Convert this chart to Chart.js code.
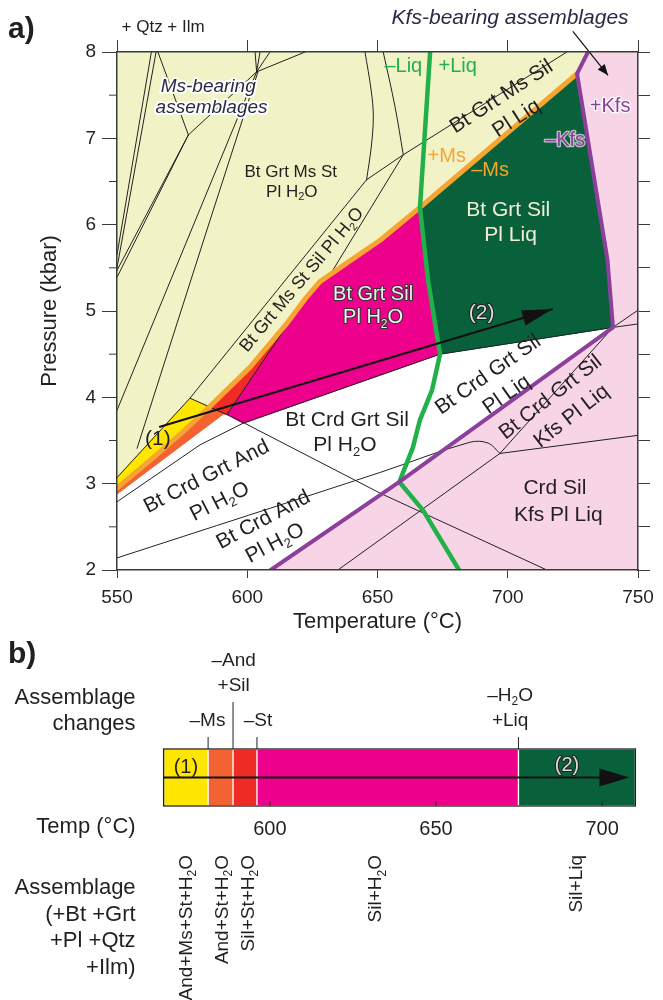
<!DOCTYPE html>
<html>
<head>
<meta charset="utf-8">
<title>Pseudosection and path</title>
<script src="https://cdn.jsdelivr.net/npm/chart.js@4.4.1/dist/chart.umd.min.js"></script>
<style>
  html, body { margin: 0; padding: 0; background: #fff; }
  #wrap { position: relative; width: 663px; height: 1000px; }
  canvas { position: absolute; left: 0; }
  #pseudo { top: 0; }
  #path { top: 640px; }
</style>
</head>
<body>
<div id="wrap">
  <canvas id="pseudo" width="663" height="640"></canvas>
  <canvas id="path" width="663" height="360"></canvas>
</div>
<script>
const FONT = "'Liberation Sans', Arial, sans-serif";
const INK = '#231f20';
const AXIS = '#3a3a3a';
const GREEN = '#22b04b';
const ORANGE = '#f6a533';
const PURPLE = '#8c3f9b';

// ---- panel a ----
const tempRange = [550, 750];
const pressRange = [2, 8];
const minorP = [2.5, 3.5, 4.5, 5.5, 6.5, 7.5];

// boundaries, [T degC, P kbar]
const msOut = [[550, 2.95], [562.7, 3.27], [575.3, 3.6], [585.5, 3.89], [601.1, 4.35], [615.3, 4.86], [622.2, 5.14], [627.9, 5.34], [639.4, 5.58], [651, 5.82], [666.3, 6.2], [726.6, 7.75]];
const solidus = [[670.2, 8], [666.3, 6.2], [669.4, 5.36], [674, 4.5], [670.9, 4.08], [666.3, 3.74], [663.6, 3.42], [658.4, 3.02], [667.5, 2.69], [681.3, 2]];
const kfsIn = [[609, 2], [658.4, 3.02], [740.4, 4.81], [738.3, 5.59], [726.6, 7.75], [730.8, 8]];

// coloured fields
const fieldMs = [[550, 8], [730.8, 8], [726.6, 7.75], [666.3, 6.2], [651, 5.82], [639.4, 5.58], [627.9, 5.34], [622.2, 5.14], [615.3, 4.86], [601.1, 4.35], [585.5, 3.89], [575.3, 3.6], [562.7, 3.27], [550, 2.95]];
const fieldAndMsSt = [[550, 3.07], [578, 3.99], [585.5, 3.89], [575.3, 3.6], [562.7, 3.27], [550, 2.95]];
const fieldAndSt = [[550, 2.95], [562.7, 3.27], [575.3, 3.6], [585.5, 3.89], [591, 3.81], [550, 2.88]];
const fieldSilSt = [[585.5, 3.89], [601.1, 4.35], [615.3, 4.86], [622.2, 5.14], [592.2, 3.8], [591, 3.81]];
const fieldSilH2O = [[622.2, 5.14], [627.9, 5.34], [639.4, 5.58], [651, 5.82], [666.3, 6.2], [669.4, 5.36], [674, 4.5], [598.4, 3.7], [592.2, 3.8]];
const fieldSilLiq = [[666.3, 6.2], [726.6, 7.75], [738.3, 5.59], [740.4, 4.81], [674, 4.5], [669.4, 5.36]];
const fieldKfs = [[730.8, 8], [750, 8], [750, 2], [609, 2], [658.4, 3.02], [740.4, 4.81], [738.3, 5.59], [726.6, 7.75]];

const fields = [fieldMs, fieldAndMsSt, fieldAndSt, fieldSilSt, fieldSilH2O, fieldSilLiq, fieldKfs];
const fieldColors = ['#f1f3c6', '#ffe600', '#f26331', '#ee2b25', '#ec008c', '#08613a', '#f8d5e6'];

// thin reaction lines
const straightLines = [
  [[563.2, 8], [550, 5.65]],
  [[565, 8], [550, 5.5]],
  [[577.4, 7.04], [550, 5.47]],
  [[577.4, 7.04], [550, 5.39]],
  [[565.7, 8], [577.4, 7.04]],
  [[577.4, 7.04], [603.6, 7.77]],
  [[603.6, 7.77], [603, 8]],
  [[603.6, 7.77], [604.9, 8]],
  [[603.6, 7.77], [608.7, 8]],
  [[603.6, 7.77], [622.2, 8]],
  [[603.6, 7.77], [550, 3.85]],
  [[604.1, 7.77], [585.7, 6.05], [557.7, 3.41]],
  [[645.8, 6.52], [578, 3.99], [550, 3.07]],
  [[645.8, 6.52], [659.9, 6.81], [722.7, 8]],
  [[659.9, 6.81], [631.8, 5.42]],
  [[622.2, 5.14], [592.2, 3.8]],
  [[578, 3.99], [594.5, 3.77], [651, 2.89], [715, 2]],
  [[550, 2.79], [581.9, 3.45], [598.4, 3.7], [674, 4.5], [740.4, 4.81], [750, 4.85]],
  [[697, 3.35], [750, 3.56]],
  [[697, 3.35], [740.4, 4.81]],
  [[740.4, 4.81], [750, 5.01]],
  [[697, 3.35], [634.8, 2]]
];
const curvedLines = [
  [[645.2, 8], [647.6, 7.55], [648.4, 7.25], [647.6, 6.9], [645.8, 6.52]],
  [[652.2, 8], [656.7, 7.37], [659.9, 6.81]],
  [[550, 2.14], [651, 3.13], [685.5, 3.48], [692.5, 3.47], [697, 3.35]]
];

const pathArrow = [[566.5, 3.66], [717, 5.02]];
const kfsPointer = [[725, 8.24], [738.5, 7.73]];

const labelsA = [
  { text: 'Ms-bearing', t: 585, p: 7.6, size: 19, italic: true, color: '#2b2a45', halo: '#fff' },
  { text: 'assemblages', t: 586.3, p: 7.35, size: 19, italic: true, color: '#2b2a45', halo: '#fff' },
  { text: 'Kfs-bearing assemblages', t: 700.9, p: 8.39, size: 21, italic: true, color: '#2b2a45', halo: '#fff' },
  { text: '+ Qtz + Ilm', t: 567.7, p: 8.29, size: 17 },
  { text: 'Bt Grt Ms St', t: 616.7, p: 6.61, size: 17 },
  { text: 'Pl H_2O', t: 617.1, p: 6.38, size: 17 },
  { text: 'Bt Grt Ms St Sil Pl H_2O', t: 621, p: 5.36, size: 18, rot: -50 },
  { text: 'Bt Grt Ms Sil', t: 697.6, p: 7.48, size: 21, rot: -33 },
  { text: 'Pl Liq', t: 703.4, p: 7.23, size: 21, rot: -33 },
  { text: 'Bt Grt Sil', t: 648.3, p: 5.19, size: 20, color: '#eeeeee', outline: '#333' },
  { text: 'Pl H_2O', t: 648.3, p: 4.92, size: 20, color: '#eeeeee', outline: '#333' },
  { text: 'Bt Grt Sil', t: 700.2, p: 6.17, size: 21, color: '#f3ecd8' },
  { text: 'Pl Liq', t: 701.1, p: 5.88, size: 21, color: '#f3ecd8' },
  { text: '–Liq', t: 659.9, p: 7.83, size: 20, color: GREEN },
  { text: '+Liq', t: 680.8, p: 7.83, size: 20, color: GREEN },
  { text: '+Ms', t: 676.6, p: 6.79, size: 20, color: ORANGE },
  { text: '–Ms', t: 693.2, p: 6.63, size: 20, color: ORANGE },
  { text: '–Kfs', t: 722, p: 6.98, size: 20, color: PURPLE, halo: 'rgba(240,225,235,0.75)', haloWidth: 2.5 },
  { text: '+Kfs', t: 739.3, p: 7.37, size: 20, color: PURPLE, halo: '#fff', haloWidth: 2.5 },
  { text: '(1)', t: 565.7, p: 3.51, size: 21 },
  { text: '(2)', t: 690, p: 4.97, size: 21, color: '#dddddd', outline: '#222' },
  { text: 'Bt Crd Grt Sil', t: 638.3, p: 3.74, size: 21 },
  { text: 'Pl H_2O', t: 637.5, p: 3.44, size: 21 },
  { text: 'Bt Crd Grt And', t: 584.4, p: 3.08, size: 21, rot: -27 },
  { text: 'Pl H_2O', t: 589.5, p: 2.79, size: 21, rot: -27 },
  { text: 'Bt Crd And', t: 606.2, p: 2.58, size: 21, rot: -28 },
  { text: 'Pl H_2O', t: 610.7, p: 2.31, size: 21, rot: -28 },
  { text: 'Bt Crd Grt Sil', t: 692.5, p: 4.26, size: 21, rot: -35 },
  { text: 'Pl Liq', t: 699.6, p: 4.03, size: 21, rot: -35 },
  { text: 'Bt Crd Grt Sil', t: 716.5, p: 4.0, size: 21, rot: -38 },
  { text: 'Kfs Pl Liq', t: 724.5, p: 3.78, size: 21, rot: -38 },
  { text: 'Crd Sil', t: 718.1, p: 2.95, size: 21 },
  { text: 'Kfs Pl Liq', t: 719.4, p: 2.64, size: 21 }
];

// ---- panel b ----
const segT = [568, 581.4, 588.9, 596.1, 674.8, 710];
const segColors = ['#ffe600', '#f26331', '#ee2b25', '#ec008c', '#08613a'];
const tempTicksB = [600, 650, 700];
const barArrow = [568, 708.2];
const changeTemps = [581.4, 588.9, 596.1, 674.8];
const changeLabelTemps = [581.2, 589.1, 596.4, 672.3];
const changeLabels = [['–Ms'], ['–And', '+Sil'], ['–St'], ['–H_2O', '+Liq']];
const assemblageTemps = [574.9, 585.8, 593.5, 632, 692.3];
const assemblageLabels = ['And+Ms+St+H_2O', 'And+St+H_2O', 'Sil+St+H_2O', 'Sil+H_2O', 'Sil+Liq'];

// text with "_x" subscripts
function parseRich(str) {
  const out = [];
  for (let i = 0; i < str.length; i++) {
    if (str[i] === '_' && i + 1 < str.length) {
      out.push({ t: str[i + 1], sub: true });
      i++;
    } else if (out.length && !out[out.length - 1].sub) {
      out[out.length - 1].t += str[i];
    } else {
      out.push({ t: str[i], sub: false });
    }
  }
  return out;
}

function drawRich(ctx, str, x, y, o) {
  const size = o.size || 20;
  const pre = (o.italic ? 'italic ' : '') + (o.bold ? 'bold ' : '');
  const fontN = pre + size + 'px ' + FONT;
  const fontS = pre + Math.round(size * 0.62) + 'px ' + FONT;
  const parts = parseRich(str);
  ctx.save();
  ctx.translate(x, y);
  if (o.rot) ctx.rotate(o.rot * Math.PI / 180);
  ctx.textBaseline = 'middle';
  ctx.textAlign = 'left';
  let w = 0;
  parts.forEach(p => {
    ctx.font = p.sub ? fontS : fontN;
    p.w = ctx.measureText(p.t).width;
    w += p.w;
  });
  const x0 = o.align === 'right' ? -w : (o.align === 'left' ? 0 : -w / 2);
  const edge = o.halo || o.outline;
  if (edge) {
    let cx = x0;
    ctx.strokeStyle = edge;
    ctx.lineWidth = o.haloWidth || (o.halo ? 4 : 2.2);
    ctx.lineJoin = 'round';
    parts.forEach(p => {
      ctx.font = p.sub ? fontS : fontN;
      ctx.strokeText(p.t, cx, p.sub ? size * 0.32 : 0);
      cx += p.w;
    });
  }
  let cx = x0;
  ctx.fillStyle = o.color || INK;
  parts.forEach(p => {
    ctx.font = p.sub ? fontS : fontN;
    ctx.fillText(p.t, cx, p.sub ? size * 0.32 : 0);
    cx += p.w;
  });
  ctx.restore();
}

function drawHead(ctx, x0, y0, x1, y1, len, half) {
  const a = Math.atan2(y1 - y0, x1 - x0);
  const bx = x1 - len * Math.cos(a), by = y1 - len * Math.sin(a);
  ctx.beginPath();
  ctx.moveTo(x1, y1);
  ctx.lineTo(bx + half * Math.sin(a), by - half * Math.cos(a));
  ctx.lineTo(bx - half * Math.sin(a), by + half * Math.cos(a));
  ctx.closePath();
  ctx.fill();
}

const toXY = pts => pts.map(p => ({ x: p[0], y: p[1] }));

function lineSet(pts, color, width, order, tension) {
  return {
    data: toXY(pts), showLine: true, fill: false,
    borderColor: color, borderWidth: width, tension: tension || 0,
    borderCapStyle: 'round', borderJoinStyle: 'round',
    pointRadius: 0, order: order
  };
}

const datasetsA = [];
fields.forEach((f, i) => {
  datasetsA.push({
    data: toXY(f.concat([f[0]])), showLine: true, fill: 'shape',
    backgroundColor: fieldColors[i], borderColor: fieldColors[i], borderWidth: 1,
    pointRadius: 0, order: 40 - i
  });
});
straightLines.forEach(l => datasetsA.push(lineSet(l, '#222', 1, 10)));
curvedLines.forEach(l => datasetsA.push(lineSet(l, '#222', 1, 10, 0.35)));
datasetsA.push(lineSet(msOut, ORANGE, 5, 6));
datasetsA.push(lineSet(solidus, GREEN, 4.5, 5));
datasetsA.push(lineSet(kfsIn, PURPLE, 4, 4));
datasetsA.push(lineSet(pathArrow, '#111', 2.2, 1));

const pseudoDecor = {
  id: 'pseudoDecor',
  afterDatasetsDraw(chart) {
    const { ctx, chartArea, scales: { x, y } } = chart;
    ctx.save();
    ctx.strokeStyle = AXIS;
    ctx.lineWidth = 1;
    minorP.forEach(v => {
      const py = y.getPixelForValue(v);
      ctx.beginPath();
      ctx.moveTo(chartArea.left - 8, py);
      ctx.lineTo(chartArea.left, py);
      ctx.stroke();
    });
    ctx.fillStyle = '#111';
    const n = pathArrow.length;
    drawHead(ctx, x.getPixelForValue(pathArrow[n - 2][0]), y.getPixelForValue(pathArrow[n - 2][1]),
      x.getPixelForValue(pathArrow[n - 1][0]), y.getPixelForValue(pathArrow[n - 1][1]), 30, 8);
    const kx0 = x.getPixelForValue(kfsPointer[0][0]), ky0 = y.getPixelForValue(kfsPointer[0][1]);
    const kx1 = x.getPixelForValue(kfsPointer[1][0]), ky1 = y.getPixelForValue(kfsPointer[1][1]);
    ctx.strokeStyle = '#111';
    ctx.lineWidth = 1.2;
    ctx.beginPath();
    ctx.moveTo(kx0, ky0);
    ctx.lineTo(kx1, ky1);
    ctx.stroke();
    drawHead(ctx, kx0, ky0, kx1, ky1, 11, 4.5);
    ctx.restore();
    labelsA.forEach(l => drawRich(ctx, l.text, x.getPixelForValue(l.t), y.getPixelForValue(l.p), l));
    drawRich(ctx, 'a)', 8, 30, { size: 30, bold: true, align: 'left' });
  }
};

const tickFont = { size: 19, family: FONT };
const titleFont = { size: 22, family: FONT };

new Chart(document.getElementById('pseudo'), {
  type: 'scatter',
  data: { datasets: datasetsA },
  options: {
    responsive: false,
    animation: false,
    layout: { padding: 0 },
    plugins: { legend: { display: false }, tooltip: { enabled: false } },
    scales: {
      x: {
        type: 'linear', position: 'bottom', min: tempRange[0], max: tempRange[1],
        ticks: { stepSize: 50, font: tickFont, color: INK, padding: 8, maxRotation: 0 },
        grid: { drawOnChartArea: false, tickLength: 8, color: AXIS },
        border: { color: AXIS, width: 1.5, z: 1 },
        title: { display: true, text: 'Temperature (°C)', font: titleFont, color: INK, padding: { top: 0, bottom: 5 } },
        afterFit: s => { s.height = 70; }
      },
      xTop: {
        type: 'linear', position: 'top', min: tempRange[0], max: tempRange[1],
        ticks: { stepSize: 50, callback: () => '' },
        grid: { drawOnChartArea: false, tickLength: 12, color: AXIS },
        border: { color: AXIS, width: 1.5, z: 1 },
        afterFit: s => { s.height = 52; }
      },
      y: {
        type: 'linear', position: 'left', min: pressRange[0], max: pressRange[1],
        ticks: { stepSize: 1, font: tickFont, color: INK, padding: 6 },
        grid: { drawOnChartArea: false, tickLength: 15, color: AXIS },
        border: { color: AXIS, width: 1.5, z: 1 },
        title: { display: true, text: 'Pressure (kbar)', font: titleFont, color: INK, padding: { top: 37, bottom: 37 } },
        afterFit: s => { s.width = 117; }
      },
      yRight: {
        type: 'linear', position: 'right', min: pressRange[0], max: pressRange[1],
        ticks: { stepSize: 0.5, callback: () => '' },
        grid: { drawOnChartArea: false, tickLength: 12, color: AXIS },
        border: { color: AXIS, width: 1.5, z: 1 },
        afterFit: s => { s.width = 25; }
      }
    }
  },
  plugins: [pseudoDecor]
});

// ---- panel b chart ----
const pathDecor = {
  id: 'pathDecor',
  afterDatasetsDraw(chart) {
    const { ctx, chartArea: a, scales: { x } } = chart;
    ctx.save();
    ctx.strokeStyle = INK;
    ctx.lineWidth = 1.3;
    ctx.strokeRect(a.left, a.top, a.right - a.left, a.bottom - a.top);
    ctx.lineWidth = 1;
    tempTicksB.forEach(v => {
      const px = x.getPixelForValue(v);
      ctx.beginPath();
      ctx.moveTo(px, a.bottom);
      ctx.lineTo(px, a.bottom - 5);
      ctx.stroke();
    });
    // path arrow
    const ym = (a.top + a.bottom) / 2;
    const ax0 = x.getPixelForValue(barArrow[0]), ax1 = x.getPixelForValue(barArrow[1]);
    ctx.strokeStyle = '#111';
    ctx.lineWidth = 2.2;
    ctx.beginPath();
    ctx.moveTo(ax0, ym);
    ctx.lineTo(ax1 - 20, ym);
    ctx.stroke();
    ctx.fillStyle = '#111';
    drawHead(ctx, ax0, ym, ax1, ym, 30, 9);
    // assemblage change markers
    ctx.strokeStyle = INK;
    ctx.lineWidth = 1;
    changeTemps.forEach((t, i) => {
      const px = x.getPixelForValue(t);
      const top = a.top - (i === 1 ? 47 : 12);
      ctx.beginPath();
      ctx.moveTo(px, a.top);
      ctx.lineTo(px, top);
      ctx.stroke();
      const lines = changeLabels[i];
      const lx = x.getPixelForValue(changeLabelTemps[i]);
      lines.forEach((s, k) => {
        drawRich(ctx, s, lx, top - 16 - (lines.length - 1 - k) * 25, { size: 19 });
      });
    });
    ctx.restore();
    drawRich(ctx, '(1)', x.getPixelForValue(574.7), a.top + 18, { size: 20 });
    drawRich(ctx, '(2)', x.getPixelForValue(689.4), a.top + 16, { size: 20, color: '#dddddd', outline: '#222' });
    // left-hand captions
    const rx = a.left - 28;
    drawRich(ctx, 'Assemblage', rx, 58, { size: 22, align: 'right' });
    drawRich(ctx, 'changes', rx, 84, { size: 22, align: 'right' });
    drawRich(ctx, 'Temp (°C)', rx, 187, { size: 22, align: 'right' });
    ['Assemblage', '(+Bt +Grt', '+Pl +Qtz', '+Ilm)'].forEach((s, k) => {
      drawRich(ctx, s, rx, 248 + k * 26.7, { size: 22, align: 'right' });
    });
    assemblageLabels.forEach((s, i) => {
      drawRich(ctx, s, x.getPixelForValue(assemblageTemps[i]), 215, { size: 19, rot: -90, align: 'right' });
    });
    drawRich(ctx, 'b)', 8, 15, { size: 30, bold: true, align: 'left' });
  }
};

new Chart(document.getElementById('path'), {
  type: 'bar',
  data: {
    labels: ['path'],
    datasets: segColors.map((c, i) => ({
      data: [[segT[i], segT[i + 1]]],
      backgroundColor: c,
      borderColor: 'rgba(255,255,255,0.55)',
      borderWidth: 1,
      borderSkipped: false,
      grouped: false,
      categoryPercentage: 1,
      barPercentage: 1
    }))
  },
  options: {
    indexAxis: 'y',
    responsive: false,
    animation: false,
    layout: { padding: { left: 163.6, right: 27.6, top: 109, bottom: 0 } },
    plugins: { legend: { display: false }, tooltip: { enabled: false } },
    scales: {
      x: {
        type: 'linear', min: segT[0], max: segT[segT.length - 1],
        afterBuildTicks: s => { s.ticks = tempTicksB.map(v => ({ value: v })); },
        ticks: { font: { size: 20, family: FONT }, color: INK, padding: 11 },
        grid: { display: false, drawTicks: false },
        border: { display: false },
        afterFit: s => { s.height = 194; }
      },
      y: { display: false }
    }
  },
  plugins: [pathDecor]
});
</script>
</body>
</html>
